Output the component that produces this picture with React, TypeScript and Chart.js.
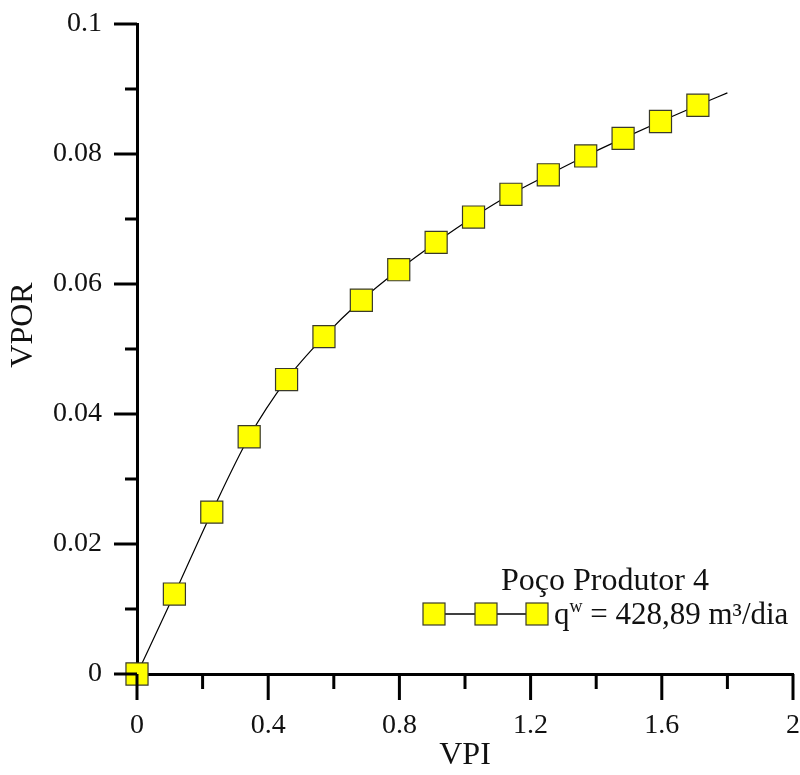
import { useEffect, useRef } from "react";
import { Chart, registerables } from "chart.js";

Chart.register(...registerables);

// ---- data ----
const vpi = [0, 0.114, 0.228, 0.342, 0.456, 0.57, 0.684, 0.798, 0.912, 1.026, 1.14, 1.254, 1.368, 1.482, 1.596, 1.71, 1.8];
const vpor = [0, 0.0123, 0.0249, 0.0365, 0.0453, 0.0519, 0.0575, 0.0622, 0.0664, 0.0703, 0.0738, 0.0768, 0.0797, 0.0824, 0.085, 0.0875, 0.0894];
const hasMarker = [true, true, true, true, true, true, true, true, true, true, true, true, true, true, true, true, false];

const xTickValues = [0, 0.2, 0.4, 0.6, 0.8, 1.0, 1.2, 1.4, 1.6, 1.8, 2.0];
const xTickLabels = ["0", "", "0.4", "", "0.8", "", "1.2", "", "1.6", "", "2"];
const yTickValues = [0, 0.01, 0.02, 0.03, 0.04, 0.05, 0.06, 0.07, 0.08, 0.09, 0.1];
const yTickLabels = ["0", "", "0.02", "", "0.04", "", "0.06", "", "0.08", "", "0.1"];

const xTitle = "VPI";
const yTitle = "VPOR";
const legendTitle = "Poço Produtor 4";
const legendMain = "q";
const legendSup = "w";
const legendRest = " = 428,89 m³/dia";

const FONT = "'Liberation Serif', 'Times New Roman', serif";
const MARKER_FILL = "#ffff00";
const MARKER_BORDER = "#3a3a2a";

function drawSquare(ctx: CanvasRenderingContext2D, x: number, y: number, side: number) {
  ctx.save();
  ctx.fillStyle = MARKER_FILL;
  ctx.strokeStyle = MARKER_BORDER;
  ctx.lineWidth = 1.2;
  ctx.fillRect(x - side / 2, y - side / 2, side, side);
  ctx.strokeRect(x - side / 2, y - side / 2, side, side);
  ctx.restore();
}

const decorPlugin = {
  id: "decor",
  afterDraw(chart: any) {
    const ctx: CanvasRenderingContext2D = chart.ctx;
    const xs = chart.scales.x;
    const ys = chart.scales.y;
    const area = chart.chartArea;
    ctx.save();
    ctx.strokeStyle = "#000";
    ctx.lineWidth = 3;
    ctx.lineCap = "butt";
    // y ticks
    yTickValues.forEach((v, i) => {
      const py = ys.getPixelForValue(v);
      const len = yTickLabels[i] !== "" ? 23 : 12;
      ctx.beginPath();
      ctx.moveTo(area.left, py);
      ctx.lineTo(area.left - len, py);
      ctx.stroke();
    });
    // x ticks
    xTickValues.forEach((v, i) => {
      const px = xs.getPixelForValue(v);
      const len = xTickLabels[i] !== "" ? 26 : 15;
      ctx.beginPath();
      ctx.moveTo(px, area.bottom);
      ctx.lineTo(px, area.bottom + len);
      ctx.stroke();
    });
    // y title
    ctx.fillStyle = "#111";
    ctx.font = `32px ${FONT}`;
    ctx.textAlign = "center";
    ctx.textBaseline = "middle";
    ctx.save();
    ctx.translate(24, 325);
    ctx.rotate(-Math.PI / 2);
    ctx.fillText(yTitle, 0, 0);
    ctx.restore();

    // legend
    ctx.font = `32px ${FONT}`;
    ctx.textAlign = "center";
    ctx.textBaseline = "alphabetic";
    ctx.fillText(legendTitle, 605, 590);

    const ly = 614;
    const lx = [434, 486, 537];
    ctx.strokeStyle = "#000";
    ctx.lineWidth = 1.3;
    ctx.beginPath();
    ctx.moveTo(lx[0], ly);
    ctx.lineTo(lx[2], ly);
    ctx.stroke();
    lx.forEach((x) => drawSquare(ctx, x, ly, 22));

    ctx.textAlign = "left";
    let tx = 554;
    const base = 624;
    ctx.font = `31px ${FONT}`;
    ctx.fillText(legendMain, tx, base);
    tx += ctx.measureText(legendMain).width;
    ctx.font = `18px ${FONT}`;
    ctx.fillText(legendSup, tx, base - 12);
    tx += ctx.measureText(legendSup).width;
    ctx.font = `31px ${FONT}`;
    ctx.fillText(legendRest, tx, base);
    ctx.restore();
  },
};

export default function App() {
  const canvasRef = useRef<HTMLCanvasElement | null>(null);

  useEffect(() => {
    const canvas = canvasRef.current;
    if (!canvas) return;
    const chart = new Chart(canvas, {
      type: "scatter",
      data: {
        datasets: [
          {
            label: legendTitle,
            data: vpi.map((x, i) => ({ x, y: vpor[i] })),
            showLine: true,
            borderColor: "#000",
            borderWidth: 1.2,
            cubicInterpolationMode: "monotone",
            pointStyle: "rect",
            pointRadius: hasMarker.map((m) => (m ? 15.6 : 0)),
            pointHoverRadius: hasMarker.map((m) => (m ? 15.6 : 0)),
            pointBackgroundColor: MARKER_FILL,
            pointBorderColor: MARKER_BORDER,
            pointBorderWidth: 1.2,
            clip: false,
          } as any,
        ],
      },
      options: {
        animation: false,
        responsive: true,
        maintainAspectRatio: false,
        layout: { autoPadding: false, padding: { top: 24, right: 7, left: 0, bottom: 0 } },
        plugins: {
          legend: { display: false },
          tooltip: { enabled: false },
        },
        scales: {
          x: {
            type: "linear",
            min: 0,
            max: 2,
            afterBuildTicks: (scale: any) => {
              scale.ticks = xTickValues.map((v) => ({ value: v }));
            },
            afterFit: (scale: any) => {
              scale.height = 101;
              scale.paddingLeft = 0;
              scale.paddingRight = 0;
            },
            grid: {
              display: true,
              drawOnChartArea: false,
              drawTicks: true,
              tickLength: 35,
              color: "rgba(0,0,0,0)",
            },
            border: { display: true, color: "#000", width: 3 },
            ticks: {
              autoSkip: false,
              maxRotation: 0,
              padding: 0,
              color: "#111",
              font: { family: FONT, size: 28 },
              callback: (_v: any, i: number) => xTickLabels[i],
            },
            title: {
              display: true,
              text: xTitle,
              color: "#111",
              font: { family: FONT, size: 32 },
              padding: { top: 0, bottom: 0 },
            },
          },
          y: {
            type: "linear",
            min: 0,
            max: 0.1,
            afterBuildTicks: (scale: any) => {
              scale.ticks = yTickValues.map((v) => ({ value: v }));
            },
            afterFit: (scale: any) => {
              scale.width = 137;
              scale.paddingTop = 0;
              scale.paddingBottom = 0;
            },
            grid: {
              display: true,
              drawOnChartArea: false,
              drawTicks: true,
              tickLength: 35,
              color: "rgba(0,0,0,0)",
            },
            border: { display: true, color: "#000", width: 3 },
            ticks: {
              autoSkip: false,
              padding: 0,
              color: "#111",
              font: { family: FONT, size: 28 },
              callback: (_v: any, i: number) => yTickLabels[i],
            },
          },
        },
      },
      plugins: [decorPlugin],
    });
    return () => chart.destroy();
  }, []);

  return (
    <div style={{ position: "absolute", left: 0, top: 0, width: 800, height: 775, background: "#fff" }}>
      <canvas ref={canvasRef} />
    </div>
  );
}
